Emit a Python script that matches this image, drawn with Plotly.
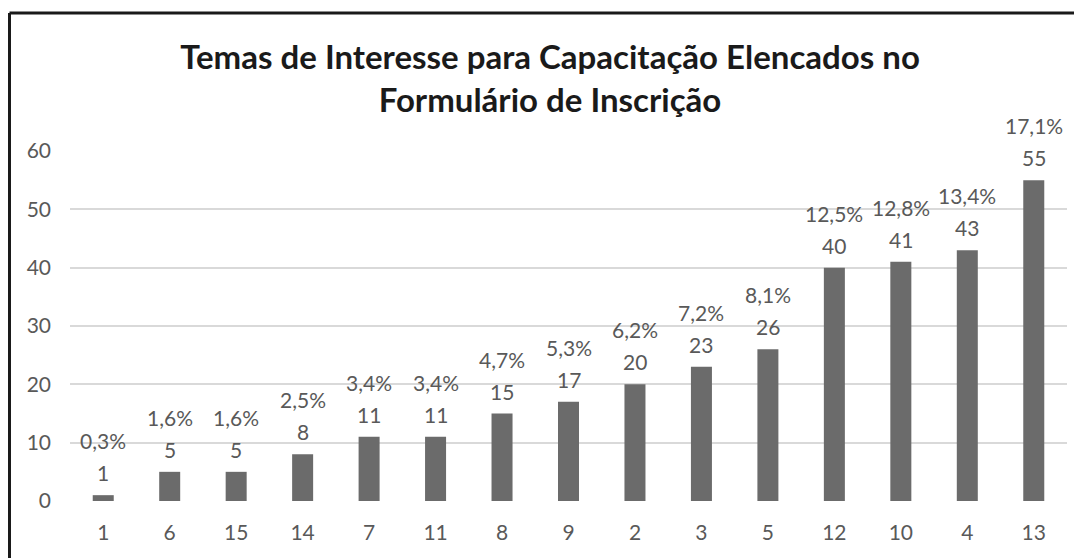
import plotly.graph_objects as go

categories = ["1", "6", "15", "14", "7", "11", "8", "9", "2", "3", "5", "12", "10", "4", "13"]
values = [1, 5, 5, 8, 11, 11, 15, 17, 20, 23, 26, 40, 41, 43, 55]
percent_labels = ["0,3%", "1,6%", "1,6%", "2,5%", "3,4%", "3,4%", "4,7%", "5,3%", "6,2%",
                  "7,2%", "8,1%", "12,5%", "12,8%", "13,4%", "17,1%"]
y_ticks = [0, 10, 20, 30, 40, 50, 60]
title_text = "Temas de Interesse para Capacitação Elencados no<br>Formulário de Inscrição"

# the page body has an 8px default margin; compensate so the figure lands on the window
OFF = 8
W, H = 1082 - OFF, 558 - OFF
ML, MR, MT, MB = 70 - OFF, 15, 151 - OFF, 57
PW, PH = W - ML - MR, H - MT - MB

FONT = "Lato, 'Open Sans', sans-serif"
GREY = "#595959"

fig = go.Figure()
fig.add_trace(go.Bar(
    x=categories, y=values,
    marker=dict(color="#6b6b6b", line=dict(width=0)),
    hoverinfo="x+y",
))

annotations = []
for i, (v, p) in enumerate(zip(values, percent_labels)):
    annotations.append(dict(x=i, y=v, xref="x", yref="y", text=str(v), showarrow=False,
                            yanchor="bottom", yshift=8,
                            font=dict(size=21, color=GREY, family=FONT)))
    annotations.append(dict(x=i, y=v, xref="x", yref="y", text=p, showarrow=False,
                            yanchor="bottom", yshift=40,
                            font=dict(size=21, color=GREY, family=FONT)))

# frame lines (left and top) in paper coordinates
xl = (9.5 - 8 - ML) / PW
yt = 1 + (MT - (13 - 8)) / PH
shapes = [
    dict(type="line", xref="paper", yref="paper", x0=xl, x1=xl, y0=-0.3, y1=yt,
         line=dict(color="#1a1a1a", width=3)),
    dict(type="line", xref="paper", yref="paper", x0=xl, x1=1.2, y0=yt, y1=yt,
         line=dict(color="#1a1a1a", width=3)),
]

fig.update_layout(
    width=W, height=H,
    margin=dict(l=ML, r=MR, t=MT, b=MB, autoexpand=False),
    paper_bgcolor="white", plot_bgcolor="white",
    bargap=0.684,
    showlegend=False,
    title=dict(text="<b>" + title_text + "</b>", x=(550 - OFF - ML) / PW, xanchor="center",
               xref="paper", y=1 - (78 - OFF - 9) / H, yanchor="middle",
               font=dict(size=33, color="#1a1a1a", family=FONT)),
    xaxis=dict(type="category", showgrid=False, zeroline=False, showline=False,
               ticks="", tickfont=dict(size=21, color=GREY, family=FONT),
               ticklabelstandoff=17, automargin=False),
    yaxis=dict(range=[0, 60], tickvals=y_ticks, showgrid=True, gridcolor="#d9d9d9",
               gridwidth=2, zeroline=False, showline=False, ticks="",
               tickfont=dict(size=21, color=GREY, family=FONT),
               ticklabelstandoff=18, automargin=False),
    annotations=annotations,
    shapes=shapes,
)

fig.write_html("out.html")
